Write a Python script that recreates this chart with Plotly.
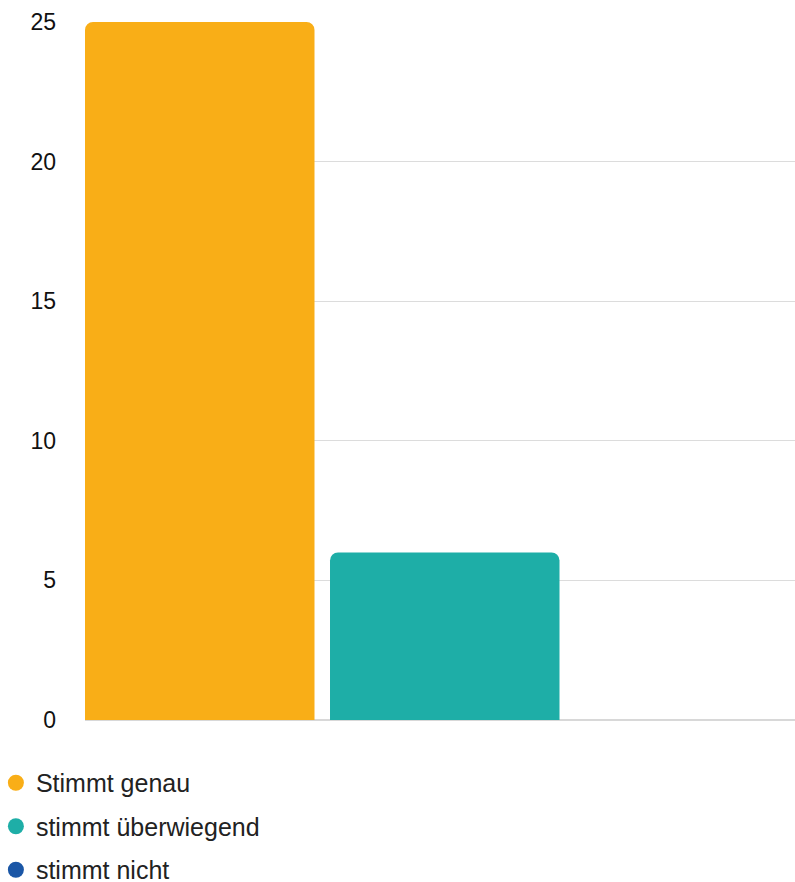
import plotly.graph_objects as go

categories = ["Stimmt genau", "stimmt überwiegend", "stimmt nicht"]
values = [25, 6, 0]
colors = ["#F9AE17", "#1EAEA7", "#1A56A6"]
y_ticks = [0, 5, 10, 15, 20, 25]

fig = go.Figure()
for cat, val, col in zip(categories, values, colors):
    fig.add_trace(go.Bar(
        x=[cat], y=[val], name=cat, marker=dict(color=col, cornerradius=8, line=dict(width=0)),
        showlegend=False, hoverinfo="skip"))
for cat, col in zip(categories, colors):
    fig.add_trace(go.Scatter(
        x=[None], y=[None], mode="markers", name=cat, legendgroup=cat,
        marker=dict(symbol="circle", size=16, color=col), showlegend=True))

fig.update_layout(
    width=795, height=882, autosize=False,
    margin=dict(l=85, r=0, t=22, b=162, autoexpand=False),
    paper_bgcolor="white", plot_bgcolor="white",
    barmode="overlay", bargap=0.0633,
    font=dict(family="Liberation Sans, Arial, sans-serif", size=24, color="#111"),
    xaxis=dict(type="category", categoryorder="array", categoryarray=categories,
               range=[-0.4684, 2.4296], showticklabels=False, showgrid=False,
               zeroline=False, showline=False, fixedrange=True),
    yaxis=dict(range=[0, 25], tickvals=y_ticks, showgrid=True, gridcolor="#DCDCDC",
               gridwidth=1, zeroline=True, zerolinecolor="#D8D8D8", zerolinewidth=2,
               showline=False, ticks="", ticklabelstandoff=28,
               tickfont=dict(size=23, color="#111")),
    legend=dict(orientation="v", xref="paper", yref="paper",
                x=-0.1255, xanchor="left", y=-0.0573, yanchor="top",
                font=dict(size=25, color="#222"), tracegroupgap=8,
                itemsizing="trace", bgcolor="rgba(0,0,0,0)"),
)

post = ("document.body.style.margin='0';document.body.style.overflow='hidden';"
        "Plotly.relayout('{plot_id}', {width: 795, height: 882});")
fig.write_html("out.html", config={"responsive": False, "displayModeBar": False},
               post_script=post)
